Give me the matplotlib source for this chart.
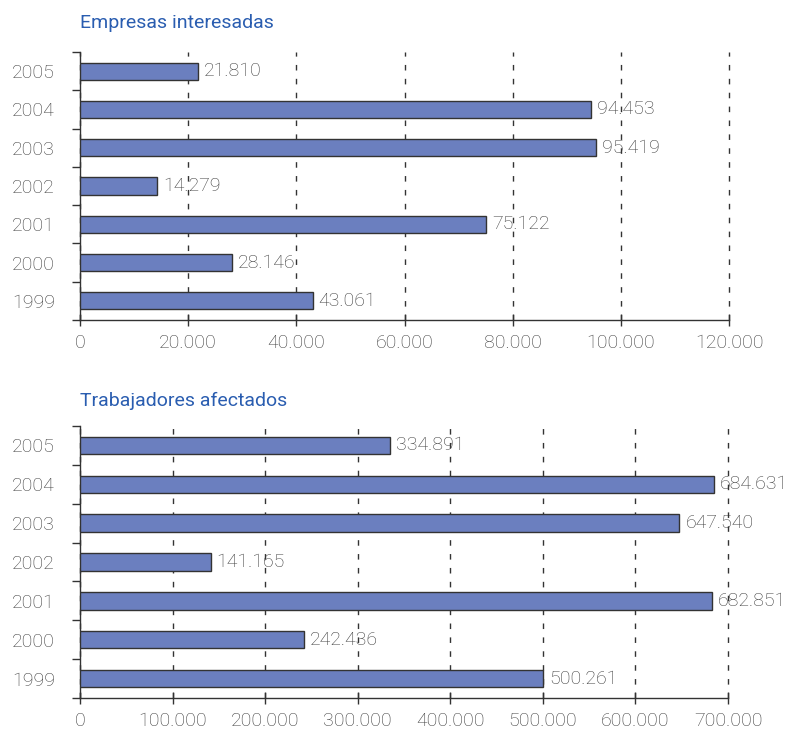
import matplotlib
matplotlib.use("Agg")
import matplotlib.pyplot as plt
from matplotlib.ticker import FuncFormatter

plt.rcParams['font.family'] = ['Roboto', 'DejaVu Sans']
plt.rcParams['font.weight'] = 'light'

# datos
years = ['1999', '2000', '2001', '2002', '2003', '2004', '2005']
empresas = [43061, 28146, 75122, 14279, 95419, 94453, 21810]
trabajadores = [500261, 242436, 682851, 141165, 647540, 684631, 334891]
ticks_emp = [0, 20000, 40000, 60000, 80000, 100000, 120000]
ticks_trab = [0, 100000, 200000, 300000, 400000, 500000, 600000, 700000]

bar_color = '#6b7fbf'
text_color = '#3c3c3c'
title_color = '#2a5db0'
fs = 14


def miles(v, pos=None):
    return '{:,.0f}'.format(v).replace(',', '.')


def draw_panel(ax, values, ticks):
    pos = list(range(len(years)))
    ax.barh(pos, values, height=0.45, color=bar_color, edgecolor='#333333', linewidth=1.0, zorder=3)
    span = ticks[-1]
    for p, v in zip(pos, values):
        ax.text(v + span * 0.009, p, miles(v), va='center', ha='left', fontsize=fs,
                color=text_color, zorder=2, clip_on=False)
    ax.set_xlim(0, ticks[-1])
    ax.set_ylim(-0.5, len(years) - 0.5)
    ax.set_xticks(ticks)
    ax.xaxis.set_major_formatter(FuncFormatter(miles))
    ax.set_yticks(pos)
    ax.set_yticklabels(years)
    ax.set_yticks([p - 0.5 for p in pos] + [len(years) - 0.5], minor=True)
    ax.tick_params(axis='y', which='major', length=0, pad=18, labelsize=fs, labelcolor=text_color)
    ax.tick_params(axis='y', which='minor', length=6, width=1, color='#333333')
    ax.tick_params(axis='x', which='major', direction='inout', length=8, width=1, color='#333333',
                   pad=6, labelsize=fs, labelcolor=text_color)
    for s in ['top', 'right']:
        ax.spines[s].set_visible(False)
    for s in ['left', 'bottom']:
        ax.spines[s].set_color('#333333')
        ax.spines[s].set_linewidth(1.0)
    ax.xaxis.grid(True, linestyle=(0, (4, 6)), color='#333333', linewidth=1.0, zorder=2)
    for gl in ax.get_xgridlines():
        gl.set_clip_on(False)
    ax.set_axisbelow(False)


fig = plt.figure(figsize=(7.88, 7.29), dpi=100)
ax1 = fig.add_axes([80 / 788, 1 - 320 / 729, 649 / 788, 268 / 729])
ax2 = fig.add_axes([80 / 788, 1 - 698 / 729, 648 / 788, 272 / 729])

draw_panel(ax1, empresas, ticks_emp)
draw_panel(ax2, trabajadores, ticks_trab)

fig.text(80 / 788, 1 - 28 / 729, 'Empresas interesadas', color=title_color, fontsize=fs,
         fontweight='normal', ha='left', va='baseline')
fig.text(80 / 788, 1 - 406 / 729, 'Trabajadores afectados', color=title_color, fontsize=fs,
         fontweight='normal', ha='left', va='baseline')

fig.savefig('out.png', dpi=100)
